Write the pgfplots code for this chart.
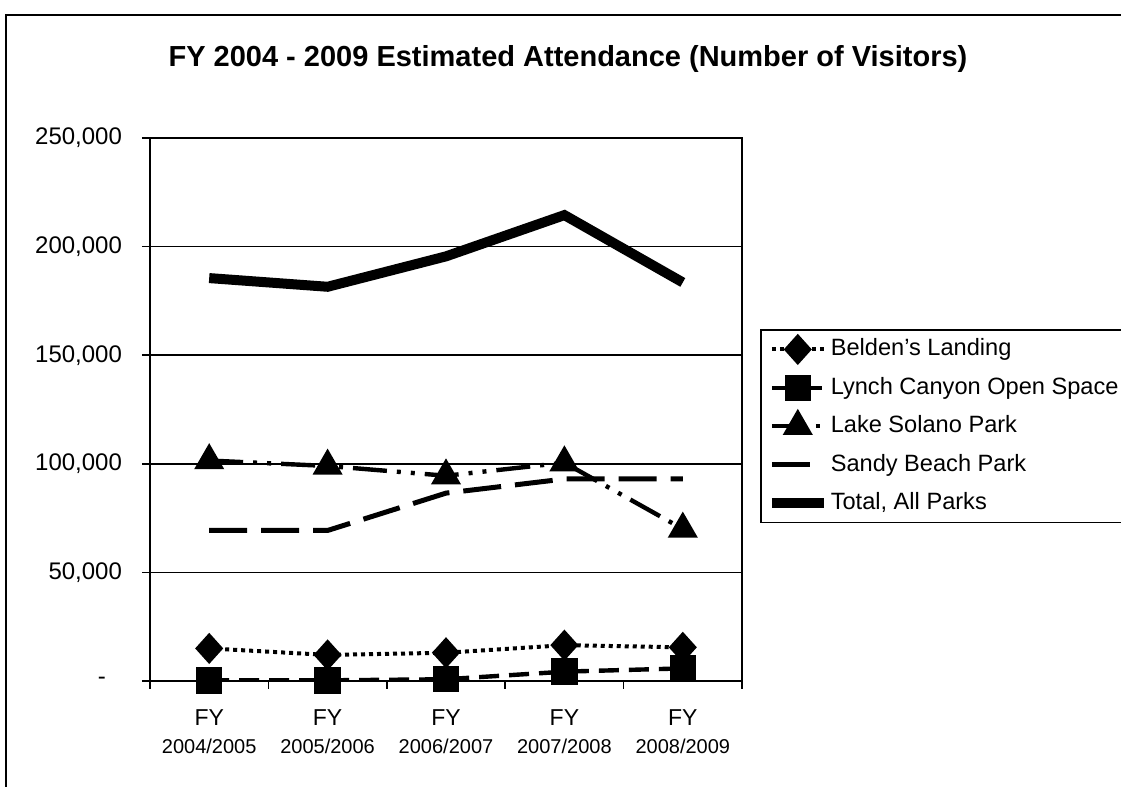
\documentclass[border=0pt]{standalone}
\usepackage{fontspec}
\setmainfont{Liberation Sans}
\usepackage{pgfplots}
\pgfplotsset{compat=1.18}
\begin{document}
\begin{tikzpicture}
\useasboundingbox (0,0) rectangle (560.5pt,393.5pt);
\fill[white] (0,0) rectangle (560.5pt,393.5pt);
\draw[line width=0.8pt] (3pt,0pt) -- (3pt,386pt) -- (570pt,386pt);
\node[anchor=base,font=\fontsize{14.5pt}{16pt}\selectfont\bfseries] at (284pt,360pt) {FY 2004 - 2009 Estimated Attendance (Number of Visitors)};
\begin{axis}[
  at={(75pt,53pt)}, anchor=south west,
  scale only axis, width=296pt, height=271.5pt,
  xmin=-0.5, xmax=4.5, ymin=0, ymax=250000,
  scaled y ticks=false,
  axis line style={line width=0.8pt},
  xtick={0,1,2,3,4},
  xticklabels={{FY\\[1pt]{\fontsize{10pt}{11pt}\selectfont 2004/2005}},
               {FY\\[1pt]{\fontsize{10pt}{11pt}\selectfont 2005/2006}},
               {FY\\[1pt]{\fontsize{10pt}{11pt}\selectfont 2006/2007}},
               {FY\\[1pt]{\fontsize{10pt}{11pt}\selectfont 2007/2008}},
               {FY\\[1pt]{\fontsize{10pt}{11pt}\selectfont 2008/2009}}},
  xticklabel style={align=center, font=\fontsize{11.5pt}{13pt}\selectfont, yshift=-7pt},
  major x tick style={draw=none},
  minor xtick={-0.5,0.5,1.5,2.5,3.5,4.5},
  minor x tick style={line width=0.8pt},
  minor tick length=4pt,
  xtick pos=left, ytick pos=left,
  ytick={0,50000,100000,150000,200000,250000},
  yticklabels={{\makebox[12pt][l]{-}},{50,000},{100,000},{150,000},{200,000},{250,000}},
  yticklabel style={font=\fontsize{12pt}{13pt}\selectfont, xshift=-6.5pt},
  major tick length=4pt,
  tick align=outside,
  tick style={black, line width=0.8pt},
  ymajorgrids, grid style={black, line width=0.8pt},
  legend cell align=left,
  legend style={at={(1.0304,0.648)}, anchor=north west, draw=black, line width=0.8pt,
    font=\fontsize{11.8pt}{13pt}\selectfont, row sep=5.7pt, inner xsep=3pt, inner ysep=3pt,
    nodes={text height=9pt, text depth=2.5pt, inner sep=1pt},
    /tikz/every even column/.append style={column sep=0pt}},
  legend image code/.code={\draw[mark repeat=2,mark phase=2] plot coordinates {(0pt,0pt) (13pt,0pt) (26pt,0pt)};},
]
\addplot[black, line width=2pt, dash pattern=on 2pt off 2pt, mark=diamond*, mark size=6.3pt, mark options={solid, xscale=1.2}]
  coordinates {(0,15000) (1,12000) (2,13000) (3,16500) (4,15500)};
\addlegendentry{Belden's Landing}
\addplot[black, line width=2.2pt, dash pattern=on 10pt off 5pt, mark=square*, mark size=5.5pt, mark options={solid}]
  coordinates {(0,300) (1,300) (2,800) (3,4300) (4,5800)};
\addlegendentry{Lynch Canyon Open Space}
\addplot[black, line width=2.2pt, dash pattern=on 17pt off 5pt on 2pt off 5pt on 2pt off 5pt, mark=triangle*, mark size=6.5pt, mark options={solid}]
  coordinates {(0,101500) (1,99000) (2,94500) (3,100500) (4,70000)};
\addlegendentry{Lake Solano Park}
\addplot[black, line width=2.5pt, dash pattern=on 19pt off 7pt]
  coordinates {(0,69300) (1,69300) (2,86500) (3,93000) (4,93000)};
\addlegendentry{Sandy Beach Park}
\addplot[black, line width=5pt]
  coordinates {(0,185500) (1,181500) (2,195500) (3,214500) (4,183500)};
\addlegendentry{Total, All Parks}
\end{axis}
\end{tikzpicture}
\end{document}
